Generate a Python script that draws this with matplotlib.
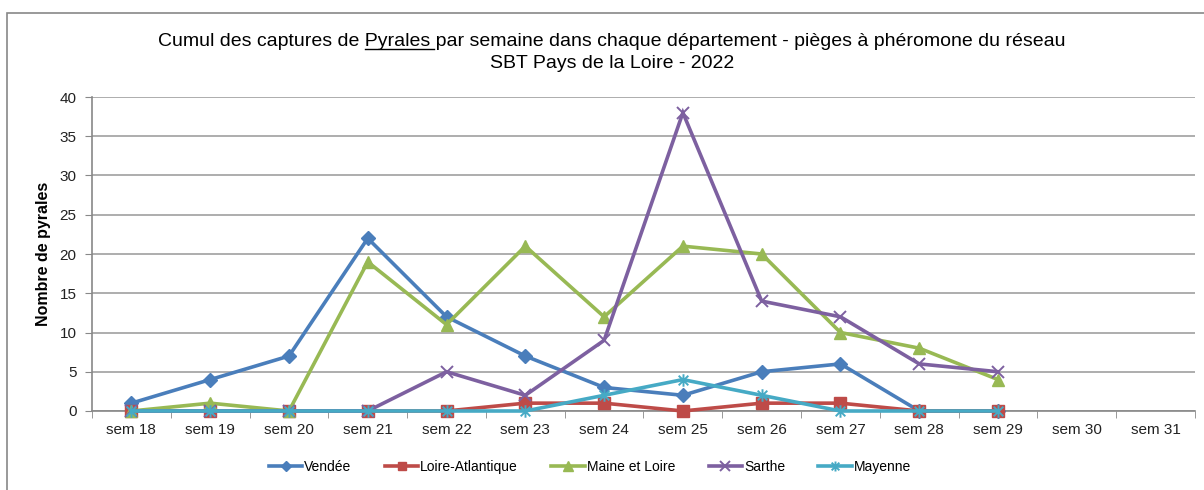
import matplotlib
matplotlib.use("Agg")
import matplotlib.pyplot as plt
from matplotlib.patches import Rectangle
from matplotlib.lines import Line2D
from matplotlib.path import Path
import numpy as np

plt.rcParams['font.family'] = ['Liberation Sans', 'DejaVu Sans']

weeks = ["sem 18", "sem 19", "sem 20", "sem 21", "sem 22", "sem 23", "sem 24",
         "sem 25", "sem 26", "sem 27", "sem 28", "sem 29", "sem 30", "sem 31"]
vendee = [1, 4, 7, 22, 12, 7, 3, 2, 5, 6, 0, 0]
loire_atlantique = [0, 0, 0, 0, 0, 1, 1, 0, 1, 1, 0, 0]
maine_et_loire = [0, 1, 0, 19, 11, 21, 12, 21, 20, 10, 8, 4]
sarthe = [0, 0, 0, 0, 5, 2, 9, 38, 14, 12, 6, 5]
mayenne = [0, 0, 0, 0, 0, 0, 2, 4, 2, 0, 0, 0]

# Excel-like asterisk marker: X plus vertical bar
ast = Path([(-1, -1), (1, 1), (-1, 1), (1, -1), (0, -1.3), (0, 1.3)],
           [Path.MOVETO, Path.LINETO, Path.MOVETO, Path.LINETO, Path.MOVETO, Path.LINETO])

series = [
    ("Vendée", vendee, "#4A7EBB", "D", 7),
    ("Loire-Atlantique", loire_atlantique, "#BE4B48", "s", 8),
    ("Maine et Loire", maine_et_loire, "#98B954", "^", 9),
    ("Sarthe", sarthe, "#7D60A0", "x", 9),
    ("Mayenne", mayenne, "#46AAC5", ast, 9),
]

W, H = 1204, 490
fig = plt.figure(figsize=(W / 100, H / 100), dpi=100)
ax = fig.add_axes([92 / W, 1 - 411 / H, (1195 - 92) / W, (411 - 97) / H])

x = np.arange(len(weeks))
handles = []
for name, vals, col, mk, ms in series:
    xs = x[:len(vals)]
    open_mk = (mk == "x") or isinstance(mk, Path)
    ln, = ax.plot(xs, vals, color=col, lw=2.6, marker=mk, markersize=ms,
                  markerfacecolor='none' if open_mk else col, markeredgecolor=col,
                  markeredgewidth=1.4 if open_mk else 1.0,
                  label=name, solid_joinstyle='miter', clip_on=False, zorder=3)
    handles.append(ln)

ax.set_xlim(-0.5, len(weeks) - 0.5)
ax.set_ylim(0, 40)
ax.set_yticks(range(0, 41, 5))
ax.set_xticks(x)
ax.set_xticklabels(weeks)
ax.set_xticks(np.arange(-0.5, len(weeks), 1), minor=True)
ax.tick_params(axis='x', which='major', length=0, pad=9, labelsize=11, labelcolor='#222222')
ax.tick_params(axis='x', which='minor', length=5, color='#888888', direction='out')
ax.tick_params(axis='y', length=5, color='#888888', labelsize=11, pad=6, labelcolor='#222222')
ax.grid(axis='y', color='#A0A0A0', lw=1.2)
ax.set_axisbelow(True)
for s in ['top', 'right']:
    ax.spines[s].set_visible(False)
for s in ['left', 'bottom']:
    ax.spines[s].set_color('#888888')
    ax.spines[s].set_linewidth(1.2)
ax.set_ylabel("Nombre de pyrales", fontsize=11.5, fontweight='bold', labelpad=6)

# outer chart border
fig.patches.append(Rectangle((7 / W, -0.1), 1.2, 1 - 13 / H + 0.1, transform=fig.transFigure,
                             fill=False, edgecolor='#888888', lw=1.2))

# title
line1 = "Cumul des captures de Pyrales par semaine dans chaque département - pièges à phéromone du réseau"
line2 = "SBT Pays de la Loire - 2022"
tfs = 14
t1 = fig.text(612 / W, 1 - 42 / H, line1, ha='center', va='center', fontsize=tfs)
fig.text(612 / W, 1 - 63 / H, line2, ha='center', va='center', fontsize=tfs)

fig.canvas.draw()
r = fig.canvas.get_renderer()
bb = t1.get_window_extent(r)
tmp1 = fig.text(0, 0, "Cumul des captures de P", fontsize=tfs)
tmp2 = fig.text(0, 0, "P", fontsize=tfs)
tmp3 = fig.text(0, 0, "Cumul des captures de Pyrales", fontsize=tfs)
w1 = tmp1.get_window_extent(r).width - tmp2.get_window_extent(r).width
w3 = tmp3.get_window_extent(r).width
for t in (tmp1, tmp2, tmp3):
    t.remove()
uy = bb.y0 + 1
fig.add_artist(Line2D([(bb.x0 + w1) / W, (bb.x0 + w3 + 3) / W], [uy / H, uy / H],
                      transform=fig.transFigure, color='black', lw=1.0))

leg = fig.legend(handles=handles, loc='center', bbox_to_anchor=(590 / W, 1 - 467 / H),
                 ncol=5, frameon=False, fontsize=10, handlelength=2.4,
                 columnspacing=2.4, handletextpad=0.15)
for h in leg.legend_handles:
    h.set_markersize(h.get_markersize() * 0.8)

fig.savefig("out.png", dpi=100)
